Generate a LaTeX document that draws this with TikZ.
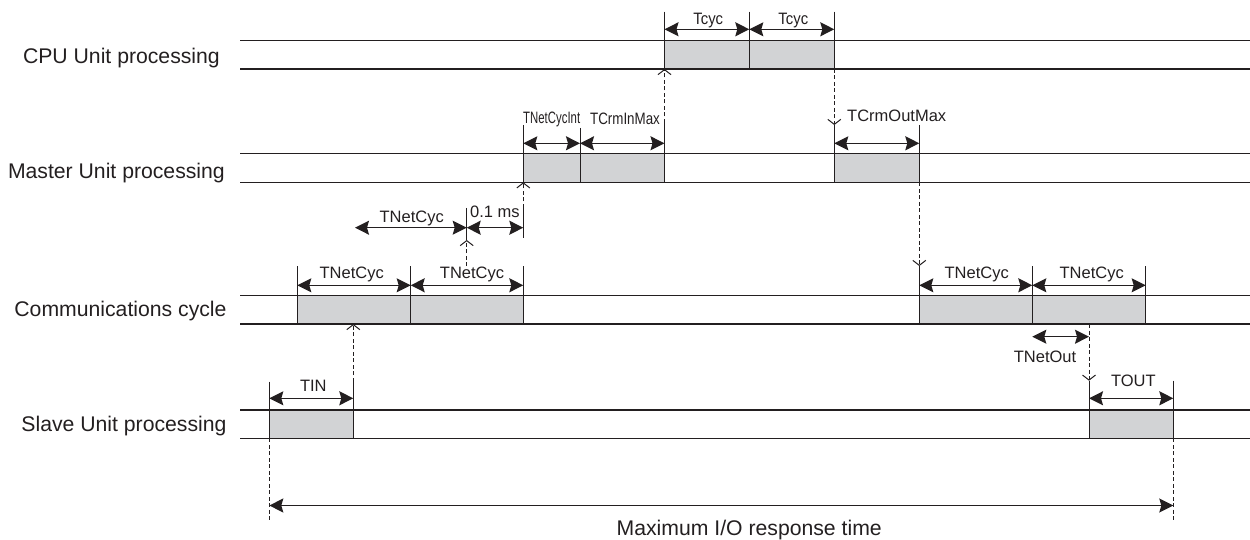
\documentclass[tikz,border=0pt]{standalone}
\usepackage{fontspec}
\setmainfont{Liberation Sans}
\usetikzlibrary{arrows.meta}
\definecolor{ink}{HTML}{231F20}
\definecolor{boxgray}{HTML}{D2D3D5}
\begin{document}
\begin{tikzpicture}[x=1pt,y=-1pt,
  >={Stealth[length=14pt,width=14pt,inset=2pt]},
  lane/.style={draw=ink,line width=1.2pt},
  boxfill/.style={fill=boxgray},
  edge/.style={draw=ink,line width=0.9pt},
  tick/.style={draw=ink,line width=0.9pt},
  dim/.style={draw=ink,line width=1.3pt,<->},
  sig/.style={draw=ink,line width=1pt,dash pattern=on 4pt off 2.5pt,-{Straight Barb[length=5pt,width=13pt]}},
  guide/.style={draw=ink,line width=1pt,dash pattern=on 4pt off 2.5pt},
  lanelbl/.style={anchor=base east,inner sep=0pt,text=ink,font=\fontsize{21.2}{25}\selectfont},
  lbl/.style={anchor=base,inner sep=0pt,text=ink,font=\fontsize{16.5}{20}\selectfont},
  biglbl/.style={anchor=base,inner sep=0pt,text=ink,font=\fontsize{21.2}{25}\selectfont}]
\useasboundingbox (0,0) rectangle (1250,540);

% ---------- gray boxes ----------
\fill[boxfill] (664.5,40.7) rectangle (834.3,69);
\fill[boxfill] (523.3,153.7) rectangle (664.5,182.3);
\fill[boxfill] (834.3,153.7) rectangle (919.3,182.3);
\fill[boxfill] (297.3,295.7) rectangle (523.3,324);
\fill[boxfill] (919.3,295.7) rectangle (1145.7,324);
\fill[boxfill] (269.3,410) rectangle (353.3,438.3);
\fill[boxfill] (1089,410) rectangle (1173.3,438.3);

% ---------- lanes ----------
\foreach \yy in {40.7,69,153.7,182.3,295.7,324,410,438.3}
  \draw[lane] (240,\yy) -- (1250,\yy);

% ---------- lane labels ----------
\node[lanelbl] (lcpu) at (220,63.5) {CPU Unit processing};
\node[lanelbl] (lmas) at (225,179) {Master Unit processing};
\node[lanelbl] (lcom) at (226.7,316.7) {Communications cycle};
\node[lanelbl] (lsla) at (226.7,431.7) {Slave Unit processing};

% ---------- CPU ----------
\coordinate (c1t) at (664.5,11.7);  \coordinate (c1b) at (664.5,69);
\coordinate (c2t) at (749.3,11.7);  \coordinate (c2b) at (749.3,69);
\coordinate (c3t) at (834.3,11.7);  \coordinate (c3b) at (834.3,69);
\draw[tick] (c1t) -- (c1b);
\draw[tick] (c2t) -- (c2b);
\draw[tick] (c3t) -- (c3b);
\coordinate (cd1) at (664.5,29.3); \coordinate (cd2) at (749.3,29.3); \coordinate (cd3) at (834.3,29.3);
\draw[dim] (cd1) -- (cd2);
\draw[dim] (cd2) -- (cd3);
\node[lbl] (tcyc1) at (708.3,25) {\scalebox{0.9}[1]{Tcyc}};
\node[lbl] (tcyc2) at (793.3,25) {\scalebox{0.9}[1]{Tcyc}};

% ---------- Master ----------
\coordinate (m1t) at (523.3,125);   \coordinate (m1b) at (523.3,182.3);
\coordinate (m2t) at (580,128);     \coordinate (m2b) at (580,182.3);
\coordinate (m3t) at (664.5,123);   \coordinate (m3b) at (664.5,182.3);
\coordinate (m4t) at (834.3,125);   \coordinate (m4b) at (834.3,182.3);
\coordinate (m5t) at (919.3,125);   \coordinate (m5b) at (919.3,182.3);
\foreach \n in {1,...,5} \draw[tick] (m\n t) -- (m\n b);
\coordinate (md1) at (523.3,143.3); \coordinate (md2) at (580,143.3);
\coordinate (md3) at (664.5,143.3); \coordinate (md4) at (834.3,143.3);
\coordinate (md5) at (919.3,143.3);
\draw[dim] (md1) -- (md2);
\draw[dim] (md2) -- (md3);
\draw[dim] (md4) -- (md5);
\node[lbl] (tnci) at (551.7,124) {\scalebox{0.69}[1]{TNetCycInt}};
\node[lbl] (tcin) at (625,125) {\scalebox{0.81}[1]{TCrmInMax}};
\node[lbl] (tcout) at (896.7,121.7) {TCrmOutMax};

% ---------- Communications ----------
\coordinate (k1t) at (297.3,266);   \coordinate (k1b) at (297.3,324);
\coordinate (k2t) at (410.7,266);   \coordinate (k2b) at (410.7,324);
\coordinate (k3t) at (523.3,266);   \coordinate (k3b) at (523.3,324);
\coordinate (k4t) at (919.3,266);   \coordinate (k4b) at (919.3,324);
\coordinate (k5t) at (1032.3,266);  \coordinate (k5b) at (1032.3,324);
\coordinate (k6t) at (1145.7,266);  \coordinate (k6b) at (1145.7,324);
\foreach \n in {1,...,6} \draw[tick] (k\n t) -- (k\n b);
\coordinate (kd1) at (297.3,285.3); \coordinate (kd2) at (410.7,285.3);
\coordinate (kd3) at (523.3,285.3); \coordinate (kd4) at (919.3,285.3);
\coordinate (kd5) at (1032.3,285.3); \coordinate (kd6) at (1145.7,285.3);
\draw[dim] (kd1) -- (kd2);
\draw[dim] (kd2) -- (kd3);
\draw[dim] (kd4) -- (kd5);
\draw[dim] (kd5) -- (kd6);
\node[lbl] (tnc1) at (351.7,278.3) {TNetCyc};
\node[lbl] (tnc2) at (472,278.3) {TNetCyc};
\node[lbl] (tnc3) at (976.7,278.3) {TNetCyc};
\node[lbl] (tnc4) at (1091.7,278.3) {TNetCyc};

% upper TNetCyc / 0.1 ms
\coordinate (u1t) at (466.7,208);   \coordinate (u1b) at (466.7,240);
\coordinate (u2t) at (523.3,208);   \coordinate (u2b) at (523.3,238);
\draw[tick] (u1t) -- (u1b);
\draw[tick] (u2t) -- (u2b);
\coordinate (ud0) at (355,227.7); \coordinate (ud1) at (466.7,227.7); \coordinate (ud2) at (523.3,227.7);
\draw[dim] (ud0) -- (ud1);
\draw[dim] (ud1) -- (ud2);
\node[lbl] (tncu) at (411.7,222.7) {TNetCyc};
\node[lbl,anchor=base west] (tms) at (470,217.7) {0.1 ms};

% TNetOut
\coordinate (o1) at (1032.3,336.7); \coordinate (o2) at (1089,336.7);
\draw[dim] (o1) -- (o2);
\node[lbl] (tnout) at (1045,362.3) {TNetOut};

% ---------- Slave ----------
\coordinate (s1t) at (269.3,381.7);  \coordinate (s1b) at (269.3,410);
\coordinate (s2t) at (353.3,381.7);  \coordinate (s2b) at (353.3,410);
\coordinate (s3t) at (1089,380.7);   \coordinate (s3b) at (1089,410);
\coordinate (s4t) at (1173.3,380.7); \coordinate (s4b) at (1173.3,410);
\foreach \n in {1,...,4} \draw[tick] (s\n t) -- (s\n b);
\coordinate (sd1) at (269.3,398.3); \coordinate (sd2) at (353.3,398.3);
\coordinate (sd3) at (1089,398.3);  \coordinate (sd4) at (1173.3,398.3);
\draw[dim] (sd1) -- (sd2);
\draw[dim] (sd3) -- (sd4);
\node[lbl] (tin) at (313.3,391.7) {TIN};
\node[lbl] (tout) at (1133.3,386.7) {TOUT};

% ---------- box edges ----------
\foreach \xa/\ya/\yb in {664.5/40.7/69, 749.3/40.7/69, 834.3/40.7/69,
  523.3/153.7/182.3, 580/153.7/182.3, 664.5/153.7/182.3, 834.3/153.7/182.3, 919.3/153.7/182.3,
  297.3/295.7/324, 410.7/295.7/324, 523.3/295.7/324, 919.3/295.7/324, 1032.3/295.7/324, 1145.7/295.7/324,
  269.3/410/438.3, 353.3/410/438.3, 1089/410/438.3, 1173.3/410/438.3}
  \draw[edge] (\xa,\ya) -- (\xa,\yb);

% ---------- signal (dashed) arrows ----------
\coordinate (kbot1) at (353.3,324);
\coordinate (mbot1) at (523.3,182.3);
\coordinate (cbot1) at (664.5,69);
\coordinate (mbot2) at (919.3,182.3);
\coordinate (kbot2) at (1089,324);
\coordinate (nettop) at (466.7,266);
\draw[sig] (s2t) -- (kbot1);
\draw[sig] (nettop) -- (u1b);
\draw[sig] (u2t) -- (mbot1);
\draw[sig] (m3t) -- (cbot1);
\draw[sig] (c3b) -- (m4t);
\draw[sig] (mbot2) -- (k4t);
\draw[sig] (kbot2) -- (s3t);

% ---------- maximum I/O response time ----------
\coordinate (g1t) at (269.3,438.3);  \coordinate (g1b) at (269.3,521.7);
\coordinate (g2t) at (1173.3,438.3); \coordinate (g2b) at (1173.3,521.7);
\draw[guide] (g1t) -- (g1b);
\draw[guide] (g2t) -- (g2b);
\coordinate (b1) at (269.3,505.5); \coordinate (b2) at (1173.3,505.5);
\draw[dim] (b1) -- (b2);
\node[biglbl] (maxio) at (749.2,535.7) {Maximum I/O response time};
\end{tikzpicture}
\end{document}
